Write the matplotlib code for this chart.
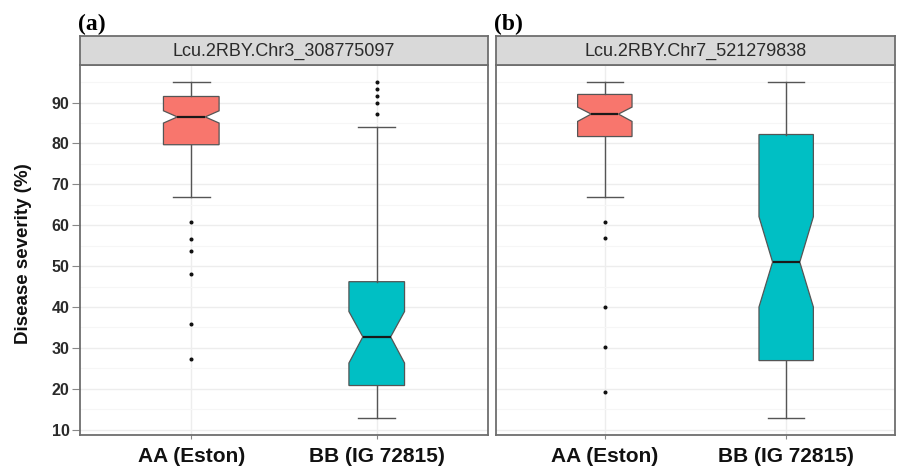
import matplotlib
matplotlib.use("Agg")
import matplotlib.pyplot as plt
from matplotlib.ticker import MultipleLocator

# ---------------- data ----------------
categories = ["AA (Eston)", "BB (IG 72815)"]
panel_titles = ["Lcu.2RBY.Chr3_308775097", "Lcu.2RBY.Chr7_521279838"]
panel_tags = ["(a)", "(b)"]

# panel (a)
a_whislo = [66.9, 12.8]
a_q1 = [79.7, 20.8]
a_cilo = [85.0, 26.3]
a_med = [86.5, 32.7]
a_cihi = [88.0, 38.9]
a_q3 = [91.5, 46.2]
a_whishi = [95.1, 84.1]
a_fliers_AA = [60.9, 56.6, 53.7, 48.2, 35.9, 27.3]
a_fliers_BB = [95.1, 93.3, 91.7, 90.0, 87.2]

# panel (b)
b_whislo = [66.9, 12.8]
b_q1 = [81.7, 26.9]
b_cilo = [85.4, 40.0]
b_med = [87.2, 51.0]
b_cihi = [88.9, 62.1]
b_q3 = [92.0, 82.2]
b_whishi = [95.1, 95.1]
b_fliers_AA = [60.9, 56.8, 40.1, 30.2, 19.2]
b_fliers_BB = []

y_ticks = [10, 20, 30, 40, 50, 60, 70, 80, 90]
fill_colors = ["#F8766D", "#00BFC4"]
# ---------------------------------------------------------------


def make_stats(whislo, q1, cilo, med, cihi, q3, whishi, fliers):
    out = []
    for i in range(len(med)):
        out.append(dict(whislo=whislo[i], q1=q1[i], cilo=cilo[i], med=med[i],
                        cihi=cihi[i], q3=q3[i], whishi=whishi[i],
                        fliers=fliers[i], label=categories[i]))
    return out


stats_a = make_stats(a_whislo, a_q1, a_cilo, a_med, a_cihi, a_q3, a_whishi,
                     [a_fliers_AA, a_fliers_BB])
stats_b = make_stats(b_whislo, b_q1, b_cilo, b_med, b_cihi, b_q3, b_whishi,
                     [b_fliers_AA, b_fliers_BB])

W, H = 897, 471
fig = plt.figure(figsize=(W / 100, H / 100), dpi=100)
fig.patch.set_facecolor("white")

sans = ["Liberation Sans", "DejaVu Sans"]
serif = ["Liberation Serif", "DejaVu Serif"]

panels = [
    (80, 488, stats_a),
    (496, 895, stats_b),
]
ax_top, ax_bot = 65, 435
strip_top = 36
border_col = "#6E6E6E"

for k, (x0, x1, stats) in enumerate(panels):
    ax = fig.add_axes([x0 / W, 1 - ax_bot / H, (x1 - x0) / W, (ax_bot - ax_top) / H])
    ax.set_facecolor("white")
    ax.set_xlim(0.4, 2.6)
    ax.set_ylim(8.7, 99.2)
    ax.yaxis.set_major_locator(MultipleLocator(10))
    ax.yaxis.set_minor_locator(MultipleLocator(5))
    ax.set_yticks(y_ticks)
    ax.grid(True, which="major", color="#EDEDED", linewidth=1.0)
    ax.grid(True, which="minor", axis="y", color="#F6F6F6", linewidth=0.8)
    ax.set_axisbelow(True)

    bp = ax.bxp(stats, positions=[1, 2], widths=0.3, capwidths=0.2,
                shownotches=True, patch_artist=True,
                boxprops=dict(edgecolor="#555555", linewidth=0.9),
                whiskerprops=dict(color="#555555", linewidth=1.0),
                capprops=dict(color="#555555", linewidth=1.0),
                medianprops=dict(color="#1A1A1A", linewidth=1.6),
                flierprops=dict(marker="o", markersize=1.9,
                                markerfacecolor="#111111",
                                markeredgecolor="#111111", linestyle="none"))
    for patch, c in zip(bp["boxes"], fill_colors):
        patch.set_facecolor(c)

    ax.set_xticks([1, 2])
    ax.set_xticklabels(categories, fontsize=15, fontweight="bold",
                       family=sans, color="#111111")
    ax.tick_params(axis="x", which="both", length=3, width=0.8,
                   color="#888888", pad=6)
    ax.tick_params(axis="y", which="minor", length=0)
    if k == 0:
        ax.set_yticklabels([str(v) for v in y_ticks], fontsize=11.5,
                           fontweight="bold", family=sans, color="#2A2A2A")
        ax.tick_params(axis="y", which="major", length=6, width=0.8,
                       color="#888888", pad=1.5)
        ax.set_ylabel("Disease severity (%)", fontsize=13.5, fontweight="bold",
                      family=sans, color="#111111")
        ax.yaxis.set_label_coords(-0.118, 0.49)
    else:
        ax.tick_params(axis="y", which="major", length=0, labelleft=False)
    for sp in ax.spines.values():
        sp.set_color(border_col)
        sp.set_linewidth(1.3)

    # facet strip
    sax = fig.add_axes([x0 / W, 1 - ax_top / H, (x1 - x0) / W, (ax_top - strip_top) / H])
    sax.set_facecolor("#D9D9D9")
    sax.set_xticks([])
    sax.set_yticks([])
    for sp in sax.spines.values():
        sp.set_color(border_col)
        sp.set_linewidth(1.3)
    sax.text(0.5, 0.47, panel_titles[k], transform=sax.transAxes,
             ha="center", va="center", fontsize=13, family=sans,
             color="#2B2B2B")

    fig.text((x0 - 2) / W, 1 - 30 / H, panel_tags[k], ha="left", va="baseline",
             fontsize=17, fontweight="bold", family=serif, color="black")

fig.savefig("out.png", dpi=100)
